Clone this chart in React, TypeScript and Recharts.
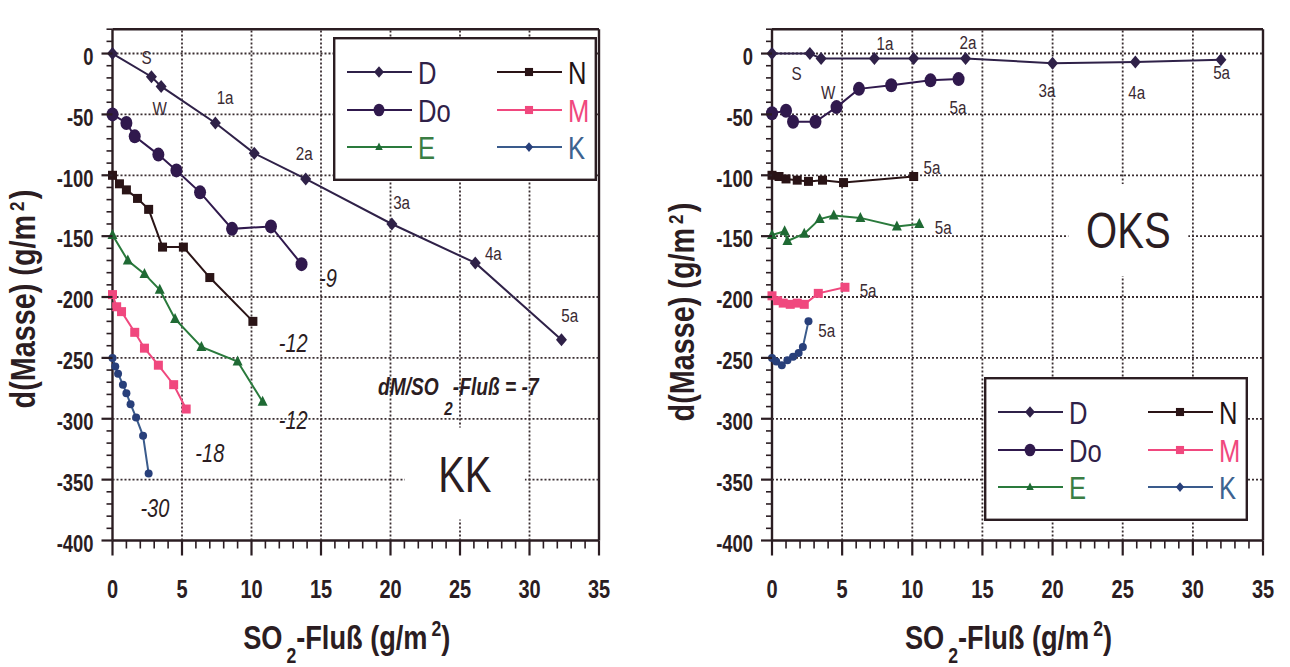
// Mass change vs. SO2 flux for six stone types, two exposure sites (KK, OKS).
// Two Recharts ScatterCharts drawn side by side, points joined in data order.

import React from 'react';
import {
  ScatterChart, Scatter, XAxis, YAxis, Legend, Label,
} from 'recharts';

const FONT = "'Liberation Sans', Arial, sans-serif";
const INK = '#2b1d22';

// axes
const X_LABELS = [0, 5, 10, 15, 20, 25, 30, 35];
const Y_LABELS = [0, -50, -100, -150, -200, -250, -300, -350, -400];
const GRID_X = [5, 10, 15, 20, 25, 30];
const GRID_Y = [0, -50, -100, -150, -200, -250, -300, -350];
const X_TICKS = Array.from({ length: 36 }, (_, i) => i);
const Y_TICKS = Array.from({ length: 43 }, (_, i) => 20 - i * 10);

// KK site
const KK_D_X = [0, 2.8, 3.5, 7.4, 10.2, 13.9, 20.1, 26.1, 32.3];
const KK_D_Y = [0, -19, -27, -57, -82, -103, -140, -172, -235];
const KK_DO_X = [0, 1.0, 1.6, 3.3, 4.6, 6.3, 8.6, 11.4, 13.6];
const KK_DO_Y = [-50, -57, -68, -83, -96, -114, -144, -142, -173];
const KK_N_X = [0, 0.5, 1.0, 1.8, 2.6, 3.6, 5.1, 7.0, 10.1];
const KK_N_Y = [-100, -107, -112, -119, -128, -159, -159, -184, -220];
const KK_E_X = [0, 1.1, 2.3, 3.4, 4.5, 6.4, 9.0, 10.8];
const KK_E_Y = [-149, -170, -181, -194, -218, -241, -253, -286];
const KK_M_X = [0, 0.3, 0.65, 1.6, 2.3, 3.3, 4.4, 5.3];
const KK_M_Y = [-198, -208, -212, -229, -242, -256, -272, -292];
const KK_K_X = [0, 0.2, 0.4, 0.75, 1.0, 1.3, 1.7, 2.2, 2.6];
const KK_K_Y = [-250, -257, -263, -272, -279, -288, -299, -314, -345];

// OKS site
const OKS_D_X = [0, 2.7, 3.5, 7.3, 10.1, 13.8, 20.0, 25.9, 32.0];
const OKS_D_Y = [0, 0, -4, -4, -4, -4, -8, -7, -5];
const OKS_DO_X = [0, 1.0, 1.5, 3.1, 4.6, 6.2, 8.5, 11.3, 13.3];
const OKS_DO_Y = [-49, -47, -56, -56, -44, -29, -26, -22, -21];
const OKS_N_X = [0, 0.5, 1.0, 1.8, 2.6, 3.6, 5.1, 10.1];
const OKS_N_Y = [-100, -101, -103, -104, -105, -104, -106, -101];
const OKS_E_X = [0, 0.9, 1.1, 2.3, 3.4, 4.4, 6.3, 8.9, 10.5];
const OKS_E_Y = [-149, -146, -154, -148, -136, -133, -135, -142, -140];
const OKS_M_X = [0, 0.4, 0.8, 1.3, 1.8, 2.3, 3.3, 5.2];
const OKS_M_Y = [-199, -203, -205, -206, -205, -206, -197, -192];
const OKS_K_X = [0, 0.3, 0.7, 1.1, 1.5, 1.9, 2.2, 2.6];
const OKS_K_Y = [-250, -253, -256, -252, -249, -246, -241, -220];

type Note = { x: number; y: number; text: string; kind: 'tag' | 'slope' | 'big' | 'formula' };

const KK_NOTES: Note[] = [
  { x: 2.45, y: -3, text: 'S', kind: 'tag' },
  { x: 3.4, y: -45, text: 'W', kind: 'tag' },
  { x: 8.1, y: -36, text: '1a', kind: 'tag' },
  { x: 13.8, y: -82, text: '2a', kind: 'tag' },
  { x: 20.8, y: -122, text: '3a', kind: 'tag' },
  { x: 27.4, y: -164, text: '4a', kind: 'tag' },
  { x: 32.9, y: -215, text: '5a', kind: 'tag' },
  { x: 15.5, y: -184, text: '-9', kind: 'slope' },
  { x: 13.0, y: -238, text: '-12', kind: 'slope' },
  { x: 13.0, y: -301, text: '-12', kind: 'slope' },
  { x: 7.0, y: -328, text: '-18', kind: 'slope' },
  { x: 3.05, y: -373, text: '-30', kind: 'slope' },
  { x: 19.1, y: -280.5, text: '-7', kind: 'formula' },
  { x: 25.35, y: -345, text: 'KK', kind: 'big' },
];

const OKS_NOTES: Note[] = [
  { x: 1.76, y: -16, text: 'S', kind: 'tag' },
  { x: 4.0, y: -32, text: 'W', kind: 'tag' },
  { x: 8.05, y: 8.5, text: '1a', kind: 'tag' },
  { x: 13.97, y: 9, text: '2a', kind: 'tag' },
  { x: 19.6, y: -30, text: '3a', kind: 'tag' },
  { x: 26.0, y: -32, text: '4a', kind: 'tag' },
  { x: 32.05, y: -15, text: '5a', kind: 'tag' },
  { x: 13.26, y: -44, text: '5a', kind: 'tag' },
  { x: 11.4, y: -93, text: '5a', kind: 'tag' },
  { x: 12.2, y: -143, text: '5a', kind: 'tag' },
  { x: 6.85, y: -194, text: '5a', kind: 'tag' },
  { x: 3.9, y: -227, text: '5a', kind: 'tag' },
  { x: 25.4, y: -145, text: 'OKS', kind: 'big' },
];

type Pt = { x: number; y: number };
const zip = (xs: number[], ys: number[]): Pt[] => xs.map((x, i) => ({ x, y: ys[i] }));

const LOOK: Record<string, { color: string; line: string; marker: string; text: string }> = {
  D: { color: '#2f2148', line: '#2f2148', marker: 'diamond', text: '#2f2148' },
  Do: { color: '#30194d', line: '#30194d', marker: 'circle', text: '#2f2148' },
  E: { color: '#1f6a34', line: '#2a7a3c', marker: 'triangle', text: '#3a7d43' },
  N: { color: '#2a1416', line: '#2a1416', marker: 'square', text: '#1f1416' },
  M: { color: '#f0487e', line: '#f0487e', marker: 'square', text: '#f0487e' },
  K: { color: '#283f7a', line: '#3a5b8c', marker: 'dot', text: '#3d6390' },
};

const KK_SERIES = [
  { name: 'D', data: zip(KK_D_X, KK_D_Y) },
  { name: 'Do', data: zip(KK_DO_X, KK_DO_Y) },
  { name: 'N', data: zip(KK_N_X, KK_N_Y) },
  { name: 'E', data: zip(KK_E_X, KK_E_Y) },
  { name: 'M', data: zip(KK_M_X, KK_M_Y) },
  { name: 'K', data: zip(KK_K_X, KK_K_Y) },
];

const OKS_SERIES = [
  { name: 'D', data: zip(OKS_D_X, OKS_D_Y) },
  { name: 'Do', data: zip(OKS_DO_X, OKS_DO_Y) },
  { name: 'N', data: zip(OKS_N_X, OKS_N_Y) },
  { name: 'E', data: zip(OKS_E_X, OKS_E_Y) },
  { name: 'M', data: zip(OKS_M_X, OKS_M_Y) },
  { name: 'K', data: zip(OKS_K_X, OKS_K_Y) },
];

// Liberation Sans squeezed horizontally, standing in for a condensed face
function T({ x, y, size, bold, italic, anchor = 'start', fill = INK, rotate, dy, children }: any) {
  const tf = `translate(${x} ${y})${rotate ? ` rotate(${rotate})` : ''} scale(0.8 1)`;
  return (
    <text transform={tf} textAnchor={anchor} dy={dy} fontFamily={FONT} fontSize={size}
      fontWeight={bold ? 'bold' : 'normal'} fontStyle={italic ? 'italic' : 'normal'} fill={fill}>
      {children}
    </text>
  );
}

function Marker({ cx, cy, kind, color, k = 1 }: any) {
  if (cx == null || cy == null) return null;
  switch (kind) {
    case 'diamond':
      return <polygon points={`${cx},${cy - 6.5 * k} ${cx + 5.5 * k},${cy} ${cx},${cy + 6.5 * k} ${cx - 5.5 * k},${cy}`} fill={color} />;
    case 'circle':
      return <ellipse cx={cx} cy={cy} rx={6 * k} ry={7 * k} fill={color} />;
    case 'square':
      return <rect x={cx - 4.5 * k} y={cy - 4.5 * k} width={9 * k} height={9 * k} fill={color} />;
    case 'triangle':
      return <polygon points={`${cx},${cy - 6 * k} ${cx + 5 * k},${cy + 4 * k} ${cx - 5 * k},${cy + 4 * k}`} fill={color} />;
    default:
      return <circle cx={cx} cy={cy} r={4 * k} fill={color} />;
  }
}

function NoteMark({ cx, cy, note }: { cx: number; cy: number; note: Note }) {
  if (cx == null || cy == null) return null;
  if (note.kind === 'big') {
    return (
      <g>
        <rect x={cx - 60} y={cy - 46} width={120} height={92} fill="#fff" />
        <T x={cx} y={cy} dy="0.36em" anchor="middle" size={50}>{note.text}</T>
      </g>
    );
  }
  if (note.kind === 'formula') {
    return (
      <T x={cx} y={cy} size={24} bold italic>
        dM/SO
        <tspan dx={7} dy={20} fontSize={19}>2</tspan>
        <tspan dy={-20}>-Fluß = {note.text}</tspan>
      </T>
    );
  }
  const slope = note.kind === 'slope';
  return (
    <T x={cx} y={cy} dy="0.36em" anchor="middle" size={slope ? 25 : 19} italic={slope} fill={slope ? INK : '#3a2a32'}>
      {note.text}
    </T>
  );
}

// dotted grid line built from short solid segments (no dash array)
function GridLine({ x, y, dx, dy }: any) {
  if (x == null || y == null || Number.isNaN(x) || Number.isNaN(y)) return null;
  const len = Math.abs(dx || dy);
  const sx = Math.sign(dx), sy = Math.sign(dy);
  let d = '';
  for (let t = 0; t < len; t += 4) {
    const a = Math.min(2, len - t);
    d += `M${(x + sx * t).toFixed(1)},${(y + sy * t).toFixed(1)}l${(sx * a).toFixed(1)},${(sy * a).toFixed(1)}`;
  }
  return <path d={d} fill="none" stroke="#3a2e31" strokeWidth={1.8} />;
}

function BottomTick(p: any) {
  const v = p.payload.value;
  const major = v % 5 === 0;
  return (
    <g>
      <line x1={p.x} x2={p.x} y1={p.y} y2={p.y + (major ? 15 : 8)} stroke={INK} strokeWidth={major ? 2.2 : 1.6} />
      {X_LABELS.includes(v) && (
        <T x={p.x} y={p.y + 57} anchor="middle" size={25} bold>{v}</T>
      )}
    </g>
  );
}

function TopTick(p: any) {
  const major = p.payload.value % 5 === 0;
  return <line x1={p.x} x2={p.x} y1={p.y} y2={p.y - (major ? 16 : 9)} stroke={INK} strokeWidth={major ? 2.2 : 1.6} />;
}

function LeftTick(p: any) {
  const v = p.payload.value;
  const major = v % 50 === 0;
  return (
    <g>
      <line x1={p.x - (major ? 11 : 6)} x2={p.x} y1={p.y} y2={p.y} stroke={INK} strokeWidth={major ? 2.2 : 1.6} />
      {Y_LABELS.includes(v) && (
        <T x={p.x - 19} y={p.y + 3} dy="0.36em" anchor="end" size={23} bold>{v}</T>
      )}
    </g>
  );
}

function RightTick(p: any) {
  const major = p.payload.value % 50 === 0;
  return <line x1={p.x} x2={p.x + (major ? 11 : 7)} y1={p.y} y2={p.y} stroke={INK} strokeWidth={major ? 2.2 : 1.6} />;
}

function XTitle({ viewBox }: any) {
  const x = viewBox.x + viewBox.width / 2 - 9;
  const y = viewBox.y + 108;
  return (
    <T x={x} y={y} anchor="middle" size={34} bold>
      SO<tspan dx={5} dy={14} fontSize={22}>2</tspan>
      <tspan dy={-14}>-Fluß (g/m</tspan>
      <tspan dx={5} dy={-13} fontSize={22}>2</tspan>
      <tspan dy={13}>)</tspan>
    </T>
  );
}

function YTitle({ viewBox, center }: any) {
  const x = viewBox.x + viewBox.width - 78;
  return (
    <T x={x} y={center} rotate={-90} anchor="middle" size={36} bold>
      d(Masse) (g/m
      <tspan dx={5} dy={-11} fontSize={21}>2</tspan>
      <tspan dx={3} dy={11}>)</tspan>
    </T>
  );
}

function LegendBox() {
  const cols = [['D', 'Do', 'E'], ['N', 'M', 'K']];
  const rows = [35, 73, 110];
  return (
    <svg width={264} height={144} style={{ display: 'block' }}>
      <rect x={1.2} y={1.2} width={261.6} height={141.6} fill="#fff" stroke={INK} strokeWidth={2.4} />
      {cols.map((col, ci) =>
        col.map((name, ri) => {
          const s = LOOK[name];
          const x0 = ci ? 164 : 14;
          const y = rows[ri];
          const small = name === 'E' || name === 'K';
          return (
            <g key={name}>
              <line x1={x0} x2={x0 + 65} y1={y} y2={y} stroke={s.line} strokeWidth={2} />
              <Marker cx={x0 + 32} cy={y} kind={name === 'K' ? 'diamond' : s.marker} color={s.color} k={small ? 0.75 : 0.9} />
              <T x={x0 + 71} y={y} dy="0.36em" size={32} fill={s.text}>{name}</T>
            </g>
          );
        }),
      )}
    </svg>
  );
}

const AXIS_LINE = { stroke: INK, strokeWidth: 2.4 };
const CHART_H = 667;

// grid anchors: vertical lines start on the bottom edge, horizontal ones on the left edge
const GRID_V_PTS = GRID_X.map((x) => ({ x, y: -400 }));
const GRID_H_PTS = GRID_Y.map((y) => ({ x: 0, y }));

function Panel({ series, notes, left, width, margin, legendAt, yTitleCenter }: any) {
  const plotW = width - margin.left - margin.right - 2;
  const plotH = CHART_H - margin.top - margin.bottom - 2;
  const big = notes.filter((n: Note) => n.kind === 'big');
  const small = notes.filter((n: Note) => n.kind !== 'big');
  return (
    <div style={{ position: 'absolute', left, top: 0 }}>
      <ScatterChart width={width} height={CHART_H} margin={margin}>
        <XAxis dataKey="x" type="number" domain={[0, 35]} ticks={X_TICKS} interval={0} height={1}
          tickSize={0} tickMargin={0} axisLine={AXIS_LINE} tickLine={false} tick={BottomTick}>
          <Label content={(p: any) => <XTitle viewBox={p.viewBox} />} />
        </XAxis>
        <XAxis xAxisId="top" orientation="top" type="number" domain={[0, 35]} ticks={X_TICKS} interval={0}
          height={1} tickSize={0} tickMargin={0} axisLine={AXIS_LINE} tickLine={false} tick={TopTick} />
        <YAxis dataKey="y" type="number" domain={[-400, 20]} ticks={Y_TICKS} interval={0} width={1}
          tickSize={0} tickMargin={0} axisLine={AXIS_LINE} tickLine={false} tick={LeftTick}>
          <Label content={(p: any) => <YTitle viewBox={p.viewBox} center={yTitleCenter} />} />
        </YAxis>
        <YAxis yAxisId="right" orientation="right" type="number" domain={[-400, 20]} ticks={Y_TICKS} interval={0}
          width={1} tickSize={0} tickMargin={0} axisLine={AXIS_LINE} tickLine={false} tick={RightTick} />

        <Scatter data={GRID_V_PTS} isAnimationActive={false} legendType="none"
          shape={(p: any) => <GridLine x={p.cx} y={p.cy} dx={0} dy={-plotH} />} />
        <Scatter data={GRID_H_PTS} isAnimationActive={false} legendType="none"
          shape={(p: any) => <GridLine x={p.cx} y={p.cy} dx={plotW} dy={0} />} />

        {big.map((n: Note, i: number) => (
          <Scatter key={`b${i}`} data={[n]} isAnimationActive={false} legendType="none"
            shape={(p: any) => <NoteMark cx={p.cx} cy={p.cy} note={n} />} />
        ))}

        {series.map((s: any) => {
          const look = LOOK[s.name];
          return (
            <Scatter key={s.name} name={s.name} data={s.data} fill={look.color} isAnimationActive={false}
              line={{ stroke: look.line, strokeWidth: 2 }} lineType="joint"
              shape={(p: any) => <Marker cx={p.cx} cy={p.cy} kind={look.marker} color={look.color} />} />
          );
        })}

        {small.map((n: Note, i: number) => (
          <Scatter key={`s${i}`} data={[n]} isAnimationActive={false} legendType="none"
            shape={(p: any) => <NoteMark cx={p.cx} cy={p.cy} note={n} />} />
        ))}

        <Legend layout="horizontal" verticalAlign="middle" align="center"
          wrapperStyle={{ position: 'absolute', left: legendAt[0], top: legendAt[1], width: 264, height: 144, margin: 0, padding: 0 }}
          content={() => <LegendBox />} />
      </ScatterChart>
    </div>
  );
}

export default function App() {
  return (
    <div style={{ position: 'absolute', left: 0, top: 0, width: 1290, height: 667, background: '#fff', overflow: 'hidden' }}>
      <Panel series={KK_SERIES} notes={KK_NOTES} left={0} width={640}
        margin={{ top: 28.2, left: 111.5, right: 40, bottom: 125.5 }} legendAt={[333, 37]} yTitleCenter={299} />
      <Panel series={OKS_SERIES} notes={OKS_NOTES} left={660} width={630}
        margin={{ top: 28.2, left: 111, right: 26, bottom: 125.5 }} legendAt={[324, 377]} yTitleCenter={312} />
    </div>
  );
}
